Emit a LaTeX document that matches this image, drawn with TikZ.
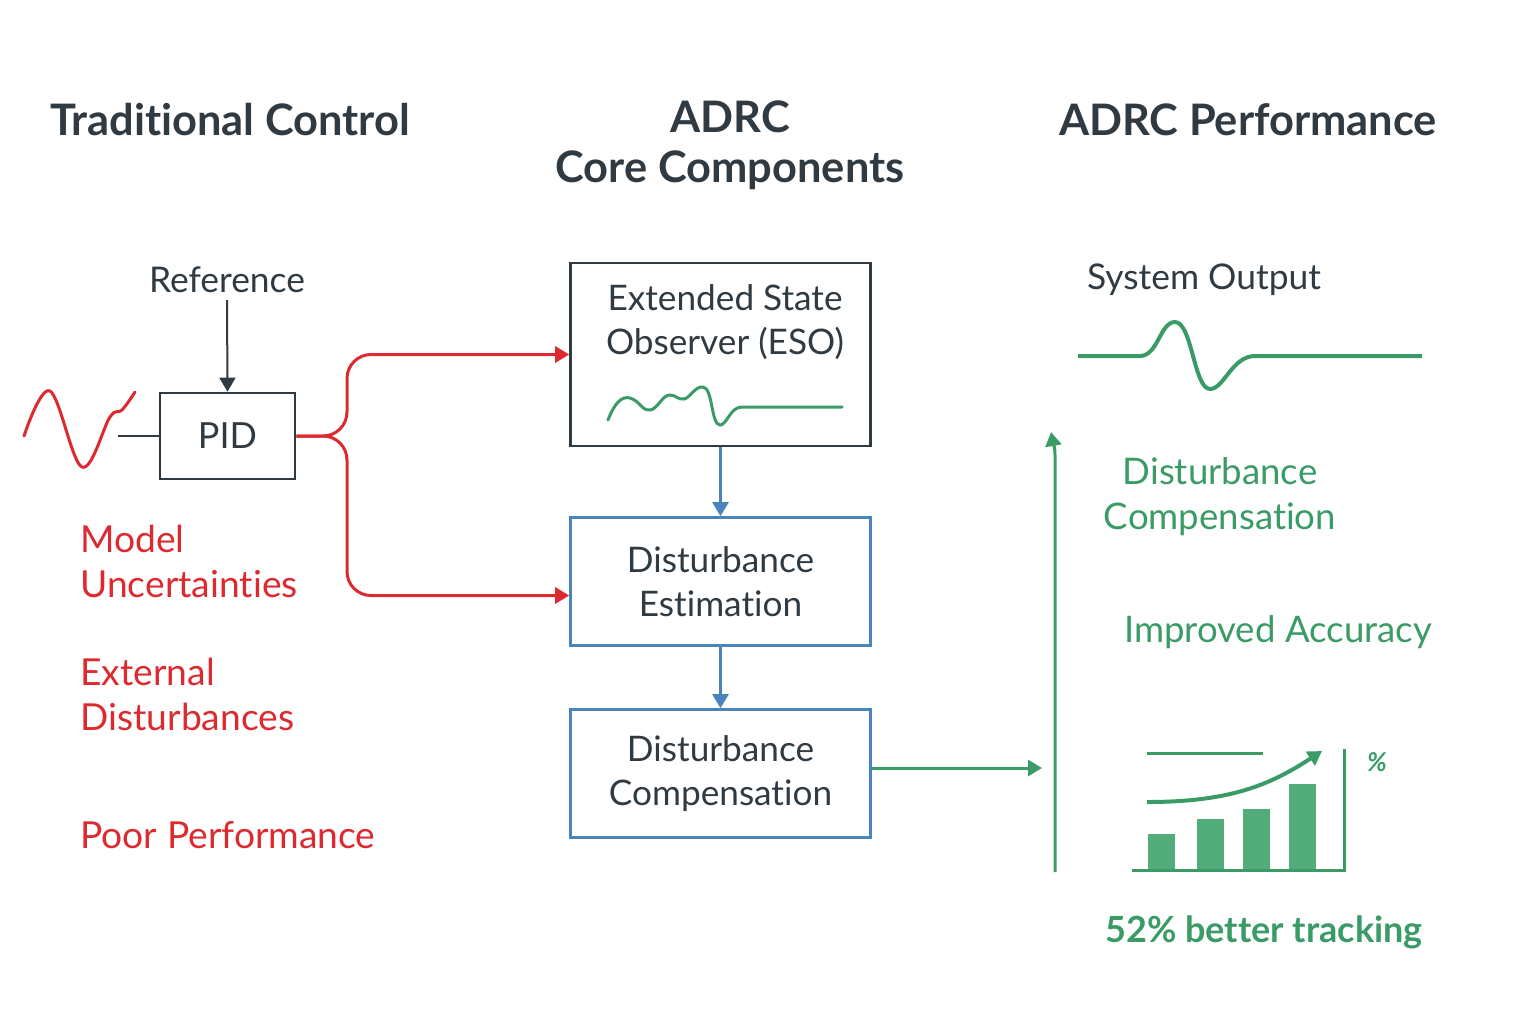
\documentclass[tikz,border=0pt]{standalone}
\usepackage{fontspec}
\setmainfont{Lato}[Ligatures=NoCommon]
\usepackage{xcolor}
\usetikzlibrary{arrows.meta}

\definecolor{inkgray}{HTML}{2F3A42}
\definecolor{alarmred}{HTML}{DD2A30}
\definecolor{calmgreen}{HTML}{3A9B66}
\definecolor{barfill}{HTML}{52AD7A}
\definecolor{steelblue}{HTML}{4A84BE}

\tikzset{
  heading/.style={text=inkgray, font=\fontsize{21.7}{25}\selectfont\bfseries, align=center},
  plain/.style={text=inkgray, font=\fontsize{17.7}{22}\selectfont},
  redlabel/.style={text=alarmred, font=\fontsize{18.6}{22.5}\selectfont, anchor=west, align=left, inner sep=0pt},
  greenlabel/.style={text=calmgreen, font=\fontsize{18.3}{22.5}\selectfont, align=center},
  darkbox/.style={draw=inkgray, line width=1.3pt, minimum width=150, minimum height=91.5,
    text=inkgray, font=\fontsize{17.6}{22}\selectfont, align=center},
  bluebox/.style={draw=steelblue, line width=1.3pt, minimum width=150, minimum height=64,
    text=inkgray, font=\fontsize{17.6}{22}\selectfont, align=center},
  tip/.style={-{Triangle[length=7pt,width=8pt]}},
}

\begin{document}
\begin{tikzpicture}[x=0.5pt,y=-0.5pt]
                \useasboundingbox (0,0) rectangle (1536,1024);
                % column titles
                \node[heading] (tradtitle) at (230,120) {Traditional Control};
                \node[heading] (adrctitle) at (730,145) {ADRC\\Core Components};
                \node[heading] (perftitle) at (1248,120) {ADRC Performance};

                % traditional loop
                \node[plain] (ref) at (227,280) {Reference};
                \node[draw=inkgray, line width=1.3pt, minimum width=67.5, minimum height=43,
                      text=inkgray, font=\fontsize{18}{22}\selectfont] (pid) at (227.5,436) {PID};
                \coordinate (feed) at (118,436);
                \draw[inkgray, line width=1pt, tip] (ref.south) -- (pid.north);
                \draw[inkgray, line width=1pt] (feed) -- (pid.west);
                \draw[alarmred, line width=1.5pt, line cap=round] plot[smooth, tension=0.6]
                      coordinates {(24,436) (50,391) (82,467) (110,417) (122,410) (135,392)};

                \node[redlabel] (model) at (80,561) {Model\\Uncertainties};
                \node[redlabel] (external) at (80,694) {External\\Disturbances};
                \node[redlabel] (poor) at (80,835) {Poor Performance};

                % ADRC blocks
                \node[darkbox] (eso) at (720.5,354.5) {};
                \node[plain, align=center, font=\fontsize{17.6}{22}\selectfont] (esotext) at (725,322) {Extended State\\Observer (ESO)};
                \draw[calmgreen, line width=1.5pt, line cap=round] (608,420)
                      .. controls (615,402) and (622,396) .. (630,398)
                      .. controls (640,401) and (642,411) .. (650,410)
                      .. controls (658,409) and (662,395) .. (670,395)
                      .. controls (676,395) and (678,400) .. (684,399)
                      .. controls (690,398) and (695,386) .. (703,387)
                      .. controls (713,388) and (711,425) .. (720,425)
                      .. controls (727,425) and (730,407) .. (742,407) -- (842,407);
                \node[bluebox] (est) at (720.5,581.5) {Disturbance\\Estimation};
                \node[bluebox] (comp) at (720.5,773.5) {Disturbance\\Compensation};
                \draw[steelblue, line width=1.2pt, tip] (eso.south) -- (est.north);
                \draw[steelblue, line width=1.2pt, tip] (est.south) -- (comp.north);

                \coordinate (split) at (347,436);
                \draw[alarmred, line width=1.5pt, rounded corners=12, tip] (pid.east) -- (split) |- (eso.west);
                \draw[alarmred, line width=1.5pt, rounded corners=12, tip] (pid.east) -- (split) |- ([yshift=-7pt]est.west);

                % performance column
                \coordinate (outin) at (1042,768);
                \coordinate (riserbot) at (1055,872);
                \coordinate (risertop) at (1051,432);
                \draw[calmgreen, line width=1.5pt, tip] (comp.east |- outin) -- (outin);
                \draw[calmgreen, line width=1.5pt, tip] (riserbot) -- (1055,455) to[out=90,in=-80] (risertop);

                \node[plain] (sysout) at (1204,280) {System Output};
                \draw[calmgreen, line width=2pt] (1078,356) -- (1140,356)
                      .. controls (1158,356) and (1160,322) .. (1175,322)
                      .. controls (1192,322) and (1194,389) .. (1210,389)
                      .. controls (1224,389) and (1232,356) .. (1255,356) -- (1422,356);

                \node[greenlabel] (distcomp) at (1220,497) {Disturbance\\Compensation};
                \node[greenlabel] (accuracy) at (1278,632) {Improved Accuracy};

                % small bar chart
                \foreach \xl/\yt in {1148/834, 1197/819, 1243/809, 1289/784}
                    \fill[barfill] (\xl,\yt) rectangle (\xl+27,870);
                \draw[calmgreen, line width=1.5pt] (1132,870) -- (1344,870) -- (1344,749);
                \draw[calmgreen, line width=1.5pt] (1147,753) -- (1263,753);
                \draw[calmgreen, line width=2pt, tip] (1147,802) .. controls (1230,802) and (1270,785) .. (1322,751);
                \node[text=calmgreen, font=\fontsize{13}{15}\selectfont\bfseries\itshape] (pct) at (1377,762) {\%};

                \node[greenlabel, font=\fontsize{18}{22}\selectfont\bfseries] (tracking) at (1264,932) {52\% better tracking};
            \end{tikzpicture}
\end{document}
